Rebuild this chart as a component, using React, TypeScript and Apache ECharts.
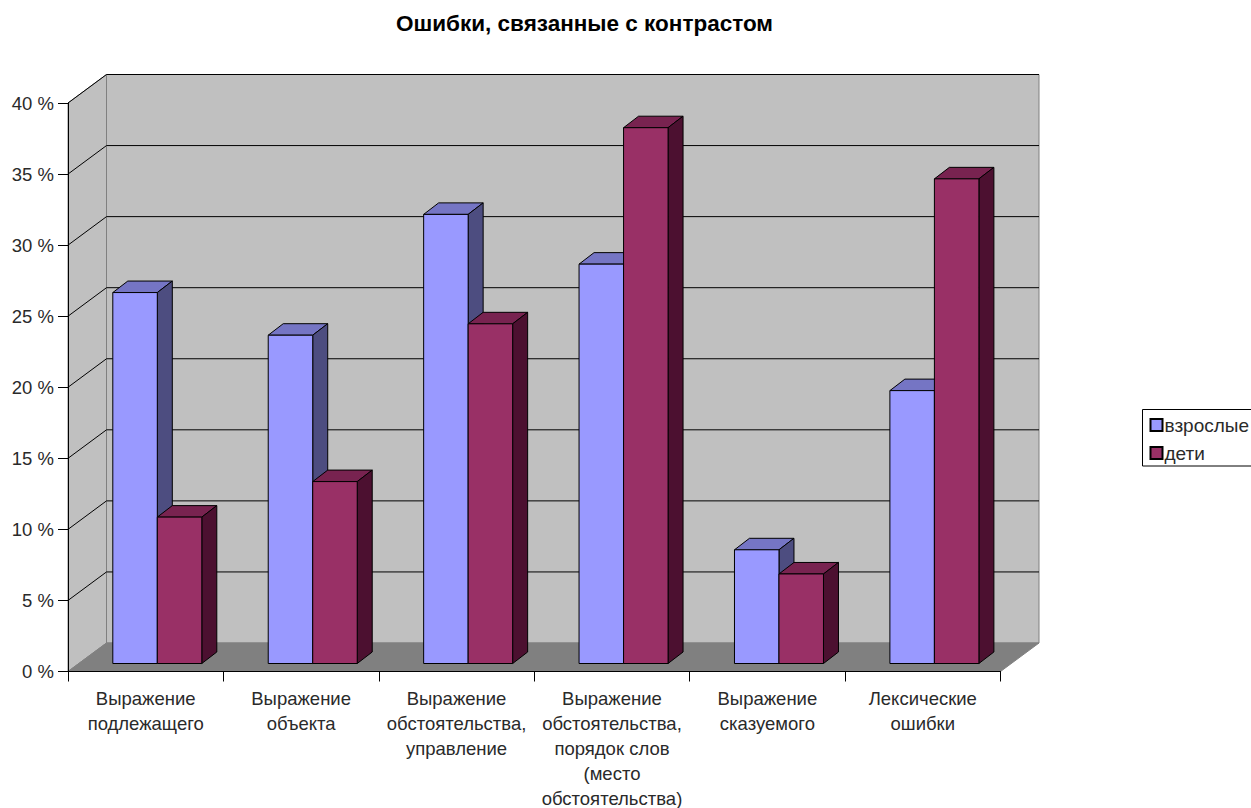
import React, { useEffect, useRef } from "react";
import * as echarts from "echarts";

const titleText = "Ошибки, связанные с контрастом";
const categories = [
  "Выражение\nподлежащего",
  "Выражение\nобъекта",
  "Выражение\nобстоятельства,\nуправление",
  "Выражение\nобстоятельства,\nпорядок слов\n(место\nобстоятельства)",
  "Выражение\nсказуемого",
  "Лексические\nошибки",
];
const adultsName = "взрослые";
const childrenName = "дети";
const adults = [26.1, 23.1, 31.6, 28.1, 8.0, 19.2];
const children = [10.3, 12.8, 23.9, 37.7, 6.3, 34.1];
const gridTicks = [5, 10, 15, 20, 25, 30, 35, 40];

// Oblique projection used for the pseudo-3D box
const WALL_DX = 38.5;
const WALL_DY = -28.5;
const BAR_PLANE_DX = 11.6;
const BAR_PLANE_DY = -8;
const BAR_DEPTH_DX = 15;
const BAR_DEPTH_DY = -11.5;
const BAR_WIDTH = 44.5;

const FONT = "'Liberation Sans', Arial, sans-serif";
const TEXT_COLOR = "#2a2a2a";

const poly = (points: number[][], fill: string, stroke = "#000") => ({
  type: "polygon",
  shape: { points },
  style: { fill, stroke, lineWidth: 1 },
});

function wallsItem(params: any) {
  const { x, y, width, height } = params.coordSys;
  const x0 = x;
  const x1 = x + width;
  const yTop = y;
  const yBase = y + height;
  const wall = "#C0C0C0";
  return {
    type: "group",
    children: [
      poly(
        [
          [x0 + WALL_DX, yTop + WALL_DY],
          [x1 + WALL_DX, yTop + WALL_DY],
          [x1 + WALL_DX, yBase + WALL_DY],
          [x0 + WALL_DX, yBase + WALL_DY],
        ],
        wall,
        "#808080",
      ),
      poly(
        [
          [x0, yBase],
          [x0, yTop],
          [x0 + WALL_DX, yTop + WALL_DY],
          [x0 + WALL_DX, yBase + WALL_DY],
        ],
        wall,
        "#808080",
      ),
      poly(
        [
          [x0, yBase],
          [x1, yBase],
          [x1 + WALL_DX, yBase + WALL_DY],
          [x0 + WALL_DX, yBase + WALL_DY],
        ],
        "#808080",
        "#808080",
      ),
    ],
  };
}

function gridLineItem(params: any, api: any) {
  const { x, width } = params.coordSys;
  const py = api.coord([0, api.value(0)])[1];
  return {
    type: "polyline",
    shape: {
      points: [
        [x, py],
        [x + WALL_DX, py + WALL_DY],
        [x + width + WALL_DX, py + WALL_DY],
      ],
    },
    style: { fill: "none", stroke: "#000", lineWidth: 1 },
  };
}

// Draws one bar of a two-bar cluster; side is -1 for the left bar, 0 for the right one
const barRenderer =
  (side: number, front: string, top: string, flank: string) =>
  (_params: any, api: any) => {
    const i = api.value(0);
    const [cx, yValue] = api.coord([i, api.value(1)]);
    const yZero = api.coord([i, 0])[1];
    const left = cx + BAR_PLANE_DX + side * BAR_WIDTH;
    const right = left + BAR_WIDTH;
    const t = yValue + BAR_PLANE_DY;
    const b = yZero + BAR_PLANE_DY;
    return {
      type: "group",
      children: [
        poly(
          [
            [left, t],
            [right, t],
            [right + BAR_DEPTH_DX, t + BAR_DEPTH_DY],
            [left + BAR_DEPTH_DX, t + BAR_DEPTH_DY],
          ],
          top,
        ),
        poly(
          [
            [right, t],
            [right + BAR_DEPTH_DX, t + BAR_DEPTH_DY],
            [right + BAR_DEPTH_DX, b + BAR_DEPTH_DY],
            [right, b],
          ],
          flank,
        ),
        poly(
          [
            [left, t],
            [right, t],
            [right, b],
            [left, b],
          ],
          front,
        ),
      ],
    };
  };

export default function App() {
  const ref = useRef<HTMLDivElement>(null);

  useEffect(() => {
    document.body.style.margin = "0";
    const chart = echarts.init(ref.current!, undefined, { renderer: "svg" });
    chart.setOption({
      animation: false,
      backgroundColor: "#fff",
      title: {
        text: titleText,
        left: 579.5,
        top: 7,
        textAlign: "center",
        textStyle: { fontFamily: FONT, fontSize: 22.5, fontWeight: "bold", color: "#000" },
      },
      legend: {
        orient: "vertical",
        left: 1142.5,
        top: 409.5,
        padding: [4.5, 40, 2, 7],
        itemGap: 6,
        itemWidth: 12,
        itemHeight: 12,
        icon: "rect",
        backgroundColor: "#fff",
        borderColor: "#000",
        borderWidth: 1,
        borderRadius: 0,
        data: [adultsName, childrenName],
        textStyle: { fontFamily: FONT, fontSize: 19, color: TEXT_COLOR, padding: [0, 0, 0, -3], lineHeight: 22 },
      },
      grid: { left: 68, right: 250.5, top: 103, bottom: 136.5, outerBoundsMode: "none" },
      xAxis: {
        type: "category",
        data: categories,
        z: 5,
        axisLine: { lineStyle: { color: "#000", width: 1 } },
        axisTick: { show: true, length: 10, alignWithLabel: false, lineStyle: { color: "#000" } },
        axisLabel: {
          interval: 0,
          margin: 14,
          fontFamily: FONT,
          fontSize: 18.5,
          lineHeight: 25,
          color: TEXT_COLOR,
          align: "center",
        },
        splitLine: { show: false },
      },
      yAxis: {
        type: "value",
        min: 0,
        max: 40,
        interval: 5,
        z: 5,
        axisLine: { show: true, lineStyle: { color: "#000", width: 1 } },
        axisTick: { show: true, length: 10, lineStyle: { color: "#000" } },
        axisLabel: {
          formatter: "{value} %",
          margin: 14,
          fontFamily: FONT,
          fontSize: 18.5,
          color: TEXT_COLOR,
        },
        splitLine: { show: false },
      },
      series: [
        {
          name: "стенки",
          type: "custom",
          silent: true,
          z: 1,
          data: [[0]],
          encode: { y: 0 },
          renderItem: wallsItem,
        },
        {
          name: "сетка",
          type: "custom",
          silent: true,
          z: 2,
          data: gridTicks.map((v) => [v]),
          encode: { y: 0 },
          renderItem: gridLineItem,
        },
        {
          name: adultsName,
          type: "custom",
          silent: true,
          z: 3,
          itemStyle: { color: "#9999FF", borderColor: "#000", borderWidth: 1 },
          data: adults.map((v, i) => [i, v]),
          encode: { x: 0, y: 1 },
          renderItem: barRenderer(-1, "#9999FF", "#7575C4", "#4D4D80"),
        },
        {
          name: childrenName,
          type: "custom",
          silent: true,
          z: 4,
          itemStyle: { color: "#993066", borderColor: "#000", borderWidth: 1 },
          data: children.map((v, i) => [i, v]),
          encode: { x: 0, y: 1 },
          renderItem: barRenderer(0, "#993066", "#782350", "#4C1030"),
        },
      ],
    });
    return () => chart.dispose();
  }, []);

  return <div ref={ref} style={{ width: 1251, height: 808 }} />;
}
